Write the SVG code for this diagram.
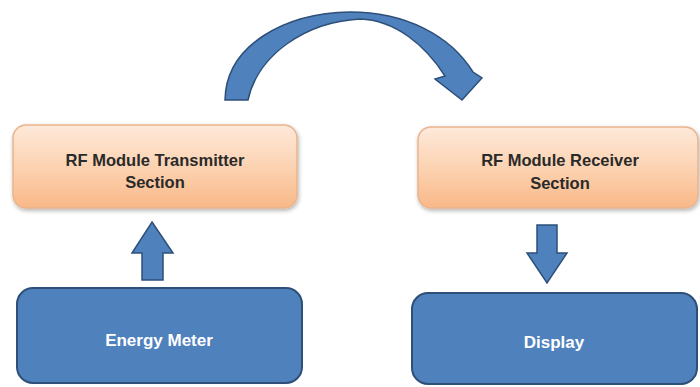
<svg xmlns="http://www.w3.org/2000/svg" width="700" height="387" viewBox="0 0 700 387">
<defs>
<linearGradient id="og" x1="0" y1="0" x2="0" y2="1">
<stop offset="0" stop-color="#FEE9DA"/>
<stop offset="0.5" stop-color="#FCD3B2"/>
<stop offset="1" stop-color="#F9B888"/>
</linearGradient>
<filter id="sh" x="-10%" y="-10%" width="120%" height="130%">
<feGaussianBlur in="SourceAlpha" stdDeviation="2"/>
<feOffset dx="1" dy="2" result="b"/>
<feComponentTransfer><feFuncA type="linear" slope="0.3"/></feComponentTransfer>
<feMerge><feMergeNode/><feMergeNode in="SourceGraphic"/></feMerge>
</filter>
</defs>
<style>
.orange{fill:url(#og);stroke:#E9B48E;stroke-width:1.5;filter:url(#sh)}
.blue{fill:#4F81BD;stroke:#2D4F78;stroke-width:2}
.arr{fill:#4F81BD;stroke:#2D4F78;stroke-width:1.5}
.dt{font-family:"Liberation Sans",Arial,sans-serif;font-weight:bold;font-size:16.5px;fill:#2A2A2A;text-anchor:middle}
.wt{font-family:"Liberation Sans",Arial,sans-serif;font-weight:bold;font-size:17px;fill:#FFFFFF;text-anchor:middle}
</style>
<rect width="700" height="387" fill="#FFFFFF"/>
<g id="connectors">
<path class="arr" d="M225,100 C226,45 285,13 350,12 C405,12 450,35 473,72 L482,78 L462,100 L435,79 L445,76 C425,45 395,20 360,19 C305,22 258,55 248,100 Z"/>
<path class="arr" d="M152,222 L173,253 L163,253 L163,280 L142,280 L142,253 L132,253 Z"/>
<path class="arr" d="M537,225 L557,225 L557,253 L567,253 L547,283 L527,253 L537,253 Z"/>
</g>
<g id="tx">
<rect class="orange" x="13" y="125" width="284" height="83" rx="13"/>
<text class="dt" x="155" y="166">RF Module Transmitter</text>
<text class="dt" x="155" y="188">Section</text>
</g>
<g id="rx">
<rect class="orange" x="418" y="127" width="280" height="81" rx="13"/>
<text class="dt" x="560" y="166">RF Module Receiver</text>
<text class="dt" x="560" y="189">Section</text>
</g>
<g id="meter">
<rect class="blue" x="17" y="288" width="285" height="95" rx="16"/>
<text class="wt" x="159" y="346">Energy Meter</text>
</g>
<g id="display">
<rect class="blue" x="412" y="293" width="285" height="91" rx="16"/>
<text class="wt" x="554" y="348">Display</text>
</g>
</svg>
